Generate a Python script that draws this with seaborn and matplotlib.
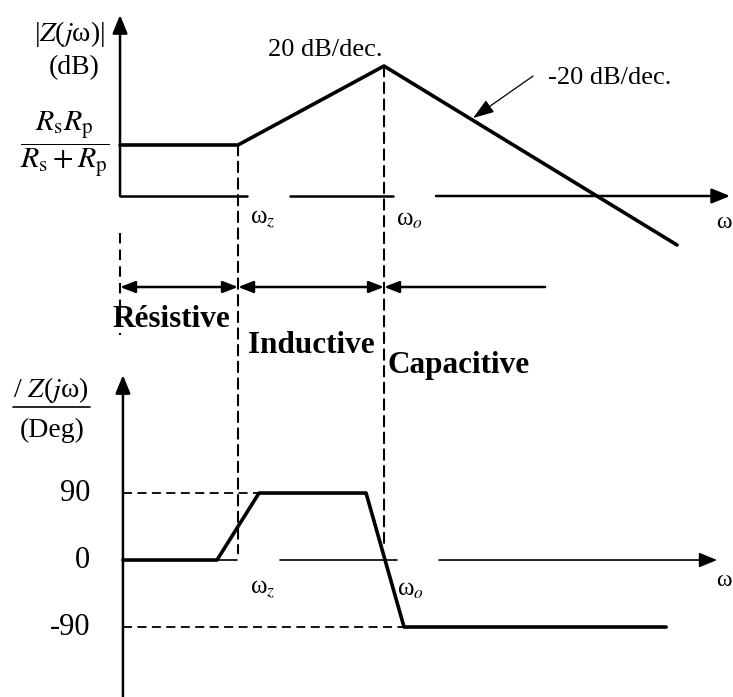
"""
Bode sketch of the impedance |Z(jw)| and its phase (resistive / inductive / capacitive zones)
"""

import matplotlib

matplotlib.use("Agg")
import matplotlib.pyplot as plt
import seaborn as sns
from matplotlib.patches import ConnectionPatch

# Data (x in decades, w_z = 1, w_o = 2)
mag_decade = [0.192, 1.0, 2.0, 4.007]
mag_db = [12.75, 12.75, 32.5, -12.25]

phase_decade = [0.212, 0.856, 1.144, 1.877, 2.137, 3.932]
phase_deg = [0, 0, 90, 90, -90, -90]

phase_ticks = [90, 0, -90]
phase_tick_labels = ["90", "0", "-90"]

zone_edges = [0.192, 1.0, 2.0, 3.103]
zone_labels = ["Résistive", "Inductive", "Capacitive"]

sns.set_theme(style="white")
plt.rcParams["font.family"] = ["Liberation Serif", "DejaVu Serif"]
plt.rcParams["mathtext.fontset"] = "stix"
plt.rcParams["text.color"] = "black"

fig = plt.figure(figsize=(7.33, 6.97), dpi=100)
fig.patch.set_facecolor("white")

# axes placed so that both share the same decade scale
ax_mag = fig.add_axes([0, 1 - 360 / 697, 1, 360 / 697])
ax_ph = fig.add_axes([0, 0, 1, 337 / 697])
for ax in (ax_mag, ax_ph):
    ax.set_xlim(-0.630, 4.390)
    ax.set_facecolor("none")
    ax.axis("off")
ax_mag.set_ylim(-41, 49)
ax_ph.set_ylim(-184, 268.7)

K = "black"
DASH = (0, (5, 3))


def arrow(ax, start, end, style="-|>", lw=1.8, hl=1.1, hw=0.45, ms=10):
    ax.annotate(
        "",
        xy=end,
        xytext=start,
        arrowprops=dict(
            arrowstyle=f"{style},head_length={hl},head_width={hw}",
            lw=lw,
            color=K,
            shrinkA=0,
            shrinkB=0,
            mutation_scale=ms,
        ),
        annotation_clip=False,
    )


# ---------------- magnitude ----------------
sns.lineplot(x=mag_decade, y=mag_db, ax=ax_mag, color=K, linewidth=2.6)

# axes lines (broken around the w labels)
arrow(ax_mag, (0.192, 0), (0.192, 45.25))
ax_mag.plot([0.192, 1.062], [0, 0], color=K, lw=1.8)
ax_mag.plot([1.356, 2.062], [0, 0], color=K, lw=1.8)
arrow(ax_mag, (2.356, 0), (4.370, 0))

ax_mag.text(-0.151, 40.5, "|$Z$($j$ω)|", fontsize=20, ha="center", va="center")
ax_mag.text(0.055, 32.0, "(dB)", fontsize=20, ha="right", va="center")
ax_mag.text(
    -0.185,
    13.0,
    r"$\dfrac{R_{\rm s}R_{\rm p}}{R_{\rm s}+R_{\rm p}}$",
    fontsize=21.5,
    ha="center",
    va="center",
)
ax_mag.text(1.596, 36.5, "20 dB/dec.", fontsize=19, ha="center", va="center")
ax_mag.text(3.123, 29.5, "-20 dB/dec.", fontsize=19, ha="left", va="center")
arrow(ax_mag, (3.021, 30.0), (2.610, 19.5), lw=0.9, hl=1.3, hw=0.45)

ax_mag.text(4.383, -6.75, "ω", fontsize=17, ha="right", va="center")
ax_mag.text(1.082, -6.0, "ω$_{z}$", fontsize=18, ha="left", va="center")
ax_mag.text(2.082, -6.0, "ω$_{o}$", fontsize=18, ha="left", va="center")

# zones
ax_mag.plot([0.192, 0.192], [-9.25, -34.75], color=K, lw=1.5, ls=DASH)
arrow(ax_mag, (zone_edges[0], -22.75), (zone_edges[1], -22.75), "<|-|>", 1.8, 0.9, 0.35)
arrow(ax_mag, (zone_edges[1], -22.75), (zone_edges[2], -22.75), "<|-|>", 1.8, 0.9, 0.35)
arrow(ax_mag, (zone_edges[3], -22.75), (zone_edges[2], -22.75), "-|>", 1.8, 0.9, 0.35)

for lab, x, y in zip(zone_labels, [0.140, 1.068, 2.027], [-32.75, -39.25, -44.25]):
    ax_mag.text(x, y, lab, fontsize=22.5, fontweight="bold", ha="left", va="baseline")

# ---------------- phase ----------------
sns.lineplot(x=phase_decade, y=phase_deg, ax=ax_ph, color=K, linewidth=2.6)

arrow(ax_ph, (0.212, -184), (0.212, 248.5))
ax_ph.plot([0.212, 0.993], [0, 0], color=K, lw=1.2)
ax_ph.plot([1.288, 2.089], [0, 0], color=K, lw=1.2)
arrow(ax_ph, (2.377, 0), (4.281, 0), lw=1.2)

ax_ph.plot([0.212, 1.144], [90, 90], color=K, lw=1.3, ls=DASH)
ax_ph.plot([0.212, 2.137], [-90, -90], color=K, lw=1.3, ls=DASH)

for t, lab in zip(phase_ticks, phase_tick_labels):
    ax_ph.text(-0.014, t, lab, fontsize=22, ha="right", va="center")

ax_ph.text(-0.541, 228, "/ $Z$($j$ω)", fontsize=20, ha="left", va="center")
ax_ph.plot([-0.541, -0.014], [205.5, 205.5], color=K, lw=1.2)
ax_ph.text(-0.493, 174.6, "(Deg)", fontsize=20, ha="left", va="center")

ax_ph.text(4.383, -26.9, "ω", fontsize=17, ha="right", va="center")
ax_ph.text(1.082, -40.3, "ω$_{z}$", fontsize=18, ha="left", va="center")
ax_ph.text(2.089, -40.3, "ω$_{o}$", fontsize=18, ha="left", va="center")

# dashed guides from the magnitude breakpoints down to the phase plot
for x, y_top, y_bot in [(mag_decade[1], mag_db[1], 9), (mag_decade[2], mag_db[2], 23)]:
    con = ConnectionPatch(
        xyA=(x, y_top),
        coordsA=ax_mag.transData,
        xyB=(x, y_bot),
        coordsB=ax_ph.transData,
        color=K,
        lw=1.5,
        ls=DASH,
    )
    fig.add_artist(con)

fig.savefig("out.png", dpi=100, facecolor="white")
